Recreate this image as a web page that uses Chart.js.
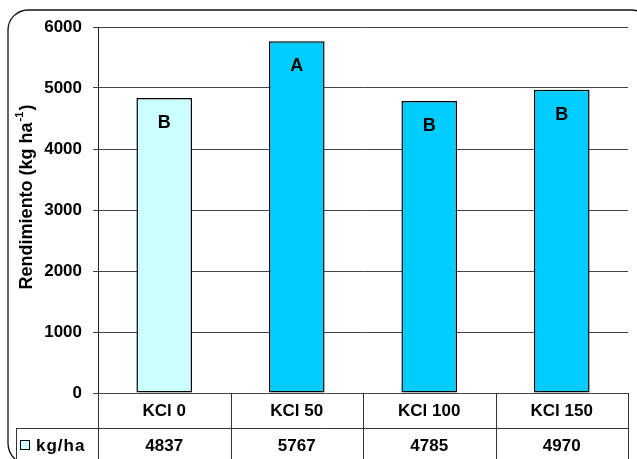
<!DOCTYPE html>
<html>
<head>
<meta charset="utf-8">
<script src="https://cdn.jsdelivr.net/npm/chart.js@4"></script>
<style>
  html, body { margin: 0; padding: 0; background: #fff; }
  #wrap { width: 637px; height: 459px; }
</style>
</head>
<body>
<div id="wrap"><canvas id="rend"></canvas></div>
<script>
var categories = ["KCl 0", "KCl 50", "KCl 100", "KCl 150"];
var rendimiento = [4837, 5767, 4785, 4970];
var letras = ["B", "A", "B", "B"];
var barColors = ["#CCFFFF", "#00CCFF", "#00CCFF", "#00CCFF"];
var seriesName = "kg/ha";
var yTicks = [0, 1000, 2000, 3000, 4000, 5000, 6000];

var FONT = "Liberation Sans, Arial, sans-serif";

// frame, y title, letters over the bars and the data table under the plot
const excelBits = {
  id: "excelBits",
  beforeDraw(chart) {
    const ctx = chart.ctx;
    ctx.save();
    ctx.strokeStyle = "#111";
    ctx.lineWidth = 1.3;
    ctx.beginPath();
    ctx.roundRect(8, 10, 640, 455, [20, 16, 18, 22]);
    ctx.stroke();
    ctx.restore();
  },
  afterDraw(chart) {
    const ctx = chart.ctx;
    const x = chart.scales.x, y = chart.scales.y;
    const area = chart.chartArea;
    const n = categories.length;
    const step = (area.right - area.left) / n;
    ctx.save();

    // letters
    ctx.fillStyle = "#000";
    ctx.font = "bold 18px " + FONT;
    ctx.textAlign = "center";
    ctx.textBaseline = "middle";
    letras.forEach(function (l, i) {
      ctx.fillText(l, x.getPixelForValue(i), y.getPixelForValue(rendimiento[i]) + 25);
    });

    // y title
    ctx.save();
    ctx.translate(27, 197);
    ctx.rotate(-Math.PI / 2);
    ctx.font = "bold 18px " + FONT;
    var main = "Rendimiento (kg ha";
    var sup = "-1";
    var wMain = ctx.measureText(main).width;
    ctx.font = "bold 11px " + FONT;
    var wSup = ctx.measureText(sup).width;
    ctx.font = "bold 18px " + FONT;
    var wClose = ctx.measureText(")").width;
    var total = wMain + wSup + 2 + wClose;
    var sx = -total / 2;
    ctx.textAlign = "left";
    ctx.fillText(main, sx, 0);
    ctx.font = "bold 11px " + FONT;
    ctx.fillText(sup, sx + wMain + 1, -7);
    ctx.font = "bold 18px " + FONT;
    ctx.fillText(")", sx + wMain + wSup + 2, 0);
    ctx.restore();

    // data table
    var top = area.bottom, mid = area.bottom + 35, bot = 470;
    ctx.strokeStyle = "#333";
    ctx.lineWidth = 1;
    ctx.beginPath();
    for (var i = 0; i <= n; i++) {
      var lx = Math.round(area.left + step * i) + 0.5;
      ctx.moveTo(lx, top);
      ctx.lineTo(lx, bot);
    }
    ctx.moveTo(16.5, mid + 0.5);
    ctx.lineTo(area.right + 1, mid + 0.5);
    ctx.moveTo(16.5, mid);
    ctx.lineTo(16.5, bot);
    ctx.stroke();

    ctx.fillStyle = "#000";
    ctx.textAlign = "center";
    ctx.font = "bold 17px " + FONT;
    categories.forEach(function (c, i) {
      ctx.fillText(c, x.getPixelForValue(i), top + 18);
      ctx.fillText(String(rendimiento[i]), x.getPixelForValue(i), mid + 18);
    });

    // legend key
    ctx.fillStyle = barColors[0];
    ctx.fillRect(20.5, 440.5, 9, 9);
    ctx.strokeStyle = "#000";
    ctx.strokeRect(20.5, 440.5, 9, 9);
    ctx.fillStyle = "#000";
    ctx.textAlign = "left";
    ctx.font = "bold 17px " + FONT;
    ctx.letterSpacing = "1px";
    ctx.fillText(seriesName, 36, mid + 18);
    ctx.restore();
  }
};

new Chart("rend", {
  type: "bar",
  data: {
    labels: categories,
    datasets: [{
      label: seriesName,
      data: rendimiento,
      backgroundColor: barColors,
      borderColor: "#000",
      borderWidth: 1.5,
      borderSkipped: false,
      categoryPercentage: 1,
      barPercentage: 0.42
    }]
  },
  options: {
    responsive: true,
    maintainAspectRatio: false,
    animation: false,
    layout: { padding: { top: 27, right: 9, bottom: 66, left: 0 } },
    plugins: {
      legend: { display: false },
      tooltip: { enabled: false }
    },
    scales: {
      x: { display: false },
      y: {
        min: 0,
        max: 6000,
        afterFit: function (s) { s.width = 98; },
        afterBuildTicks: function (s) { s.ticks = yTicks.map(function (v) { return { value: v }; }); },
        ticks: {
          color: "#000",
          font: { family: FONT, size: 17, weight: "bold" },
          padding: 11,
          callback: function (v) { return String(v); }
        },
        grid: {
          color: "#444",
          lineWidth: 1,
          tickLength: 5,
          tickColor: "#444"
        },
        border: { color: "#222", width: 1 }
      }
    }
  },
  plugins: [excelBits]
});
</script>
</body>
</html>
